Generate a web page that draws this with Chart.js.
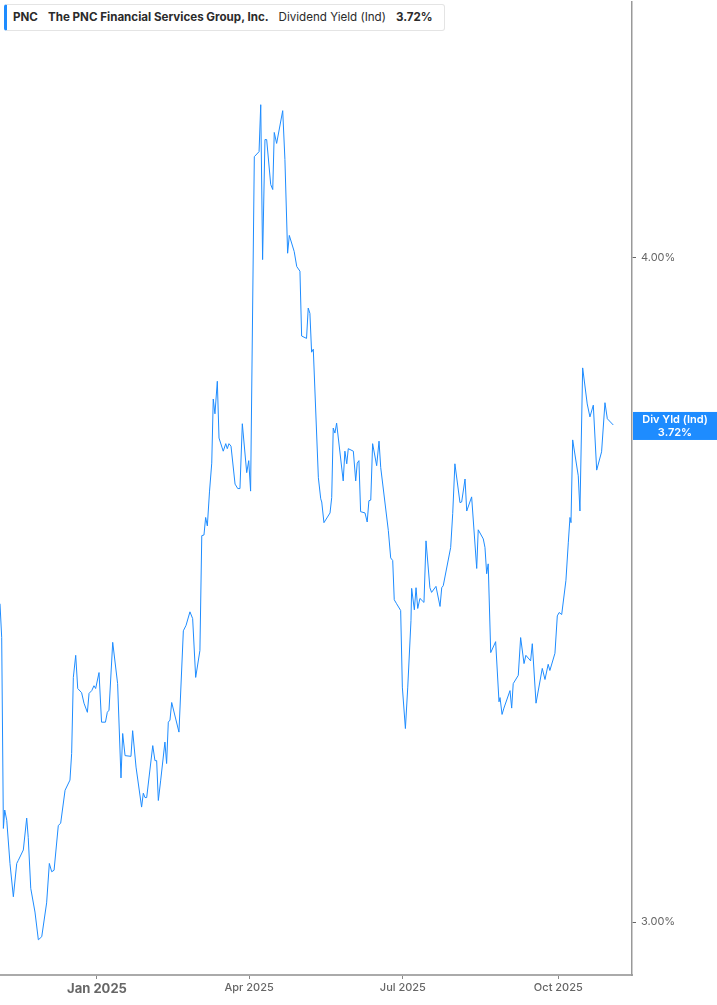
<!DOCTYPE html>
<html>
<head>
<meta charset="utf-8">
<script src="https://cdn.jsdelivr.net/npm/chart.js@4/dist/chart.umd.min.js"></script>
<style>
  body { margin: 0; background: #fff; font-family: Inter, "Noto Sans", sans-serif; overflow: hidden; }
  #caja { position: relative; width: 717px; height: 1005px; overflow: hidden; }
  #myChart { position: absolute; left: 0; top: -10px; }
  #leyenda {
    position: absolute; left: 4px; top: 4px; height: 25px; line-height: 25px;
    background: #fff; border: 1px solid #e4e4e4; border-left: 3px solid #1e8cff;
    border-radius: 3px; padding: 0 11px 0 6px; font-size: 11.6px; color: #2b2b2b;
    white-space: nowrap;
  }
  #leyenda b { font-weight: 700; }
  #leyenda span { margin-left: 10px; }
</style>
</head>
<body>
<div id="caja">
  <canvas id="myChart" width="717" height="1015"></canvas>
  <div id="leyenda"><b>PNC</b><span><b>The PNC Financial Services Group, Inc.</b></span><span>Dividend Yield (Ind)</span><span><b>3.72%</b></span></div>
</div>
<script>
// days counted from 1 Jan 2025 (negative = Nov/Dec 2024)
var dias = [-57.4, -56.4, -55.4, -54.6, -53.4, -51.5, -49.5, -47.5, -46.6, -43.6, -41.6, -40.7, -39.2, -36.7, -34.7, -32.7, -29.8, -28.2, -26.8, -25.4,
  -22.9, -21.5, -18.9, -16.0, -15.0, -14.0, -12.6, -11.4, -9.1, -7.7, -5.7, -4.7, -3.1, -1.8, -0.8, 1.2, 2.7, 5.0, 6.1, 7.1,
  9.3, 12.2, 14.2, 15.2, 16.6, 20.1, 21.1, 23.1, 26.4, 27.4, 28.4, 29.4, 33.0, 34.3, 35.3, 36.3, 37.7, 40.2, 41.2, 42.2,
  43.2, 44.2, 48.5, 51.1, 52.7, 55.0, 56.6, 58.4, 60.9, 62.0, 63.3, 64.3, 65.3, 66.6, 67.9, 68.8, 69.8, 71.2, 72.2, 74.7,
  76.2, 77.1, 78.1, 79.3, 81.7, 83.3, 84.6, 86.0, 88.6, 89.8, 90.9, 93.1, 95.9, 96.9, 98.0, 99.4, 100.4, 102.8, 104.0, 104.9,
  106.3, 109.9, 111.2, 112.8, 113.8, 116.7, 118.2, 120.1, 121.1, 124.0, 125.0, 126.0, 127.0, 128.0, 131.0, 132.4, 133.0, 134.3, 137.9, 138.9,
  139.8, 140.8, 141.8, 145.7, 146.7, 147.8, 148.7, 151.7, 153.1, 154.0, 155.0, 156.0, 158.6, 159.9, 160.9, 162.0, 163.1, 165.5, 166.9, 167.9,
  172.4, 173.8, 175.0, 175.9, 177.3, 179.7, 180.7, 182.5, 183.9, 185.8, 186.2, 187.8, 188.8, 189.8, 191.1, 193.5, 194.7, 197.0, 198.0, 200.6,
  203.0, 204.0, 204.9, 209.3, 210.5, 211.8, 214.8, 215.8, 217.8, 218.8, 221.7, 224.7, 225.6, 228.6, 229.6, 230.6, 231.5, 233.0, 235.9, 237.9,
  238.5, 239.7, 240.8, 244.4, 245.4, 246.3, 249.3, 250.7, 252.7, 253.8, 256.6, 257.6, 259.8, 263.5, 265.1, 267.0, 268.0, 271.0, 272.4, 273.5,
  275.0, 277.5, 278.9, 279.9, 280.5, 281.5, 284.8, 285.8, 287.4, 290.1, 291.7, 293.7, 295.7, 298.6, 300.6, 302.0, 305.5];

var rendimiento = [3.443, 3.393, 3.124, 3.149, 3.135, 3.077, 3.033, 3.077, 3.081, 3.095, 3.138, 3.112, 3.044, 3.013, 2.977, 2.981, 3.025, 3.077, 3.066, 3.068,
  3.128, 3.131, 3.176, 3.190, 3.227, 3.335, 3.367, 3.319, 3.313, 3.298, 3.285, 3.312, 3.316, 3.323, 3.319, 3.342, 3.271, 3.271, 3.285, 3.288,
  3.386, 3.326, 3.193, 3.255, 3.224, 3.223, 3.259, 3.208, 3.153, 3.172, 3.166, 3.166, 3.238, 3.217, 3.217, 3.162, 3.190, 3.243, 3.213, 3.271,
  3.274, 3.299, 3.257, 3.403, 3.411, 3.431, 3.421, 3.335, 3.374, 3.546, 3.547, 3.574, 3.561, 3.615, 3.659, 3.762, 3.738, 3.791, 3.699, 3.678,
  3.690, 3.682, 3.690, 3.686, 3.626, 3.619, 3.619, 3.722, 3.644, 3.663, 3.615, 4.178, 4.187, 4.273, 3.996, 4.209, 4.209, 4.128, 4.119, 4.222,
  4.202, 4.262, 4.173, 4.007, 4.038, 4.010, 3.984, 3.976, 3.866, 3.862, 3.913, 3.904, 3.839, 3.844, 3.636, 3.603, 3.598, 3.566, 3.581, 3.605,
  3.715, 3.707, 3.723, 3.631, 3.678, 3.658, 3.682, 3.678, 3.631, 3.659, 3.663, 3.583, 3.581, 3.567, 3.600, 3.601, 3.690, 3.655, 3.694, 3.652,
  3.554, 3.512, 3.508, 3.449, 3.443, 3.433, 3.321, 3.262, 3.321, 3.418, 3.466, 3.434, 3.467, 3.436, 3.451, 3.445, 3.538, 3.467, 3.460, 3.469,
  3.439, 3.467, 3.470, 3.528, 3.580, 3.658, 3.597, 3.598, 3.634, 3.584, 3.606, 3.496, 3.555, 3.541, 3.528, 3.488, 3.503, 3.371, 3.387, 3.300,
  3.306, 3.282, 3.291, 3.316, 3.291, 3.326, 3.338, 3.393, 3.355, 3.367, 3.359, 3.384, 3.298, 3.348, 3.332, 3.354, 3.345, 3.370, 3.425, 3.430,
  3.427, 3.478, 3.535, 3.574, 3.566, 3.696, 3.639, 3.584, 3.813, 3.754, 3.733, 3.752, 3.648, 3.677, 3.756, 3.730, 3.720];

var tickDias = [0, 90, 181, 273];
var tickTextos = ['Jan 2025', 'Apr 2025', 'Jul 2025', 'Oct 2025'];
var tickY = [3, 4];

var azul = '#1e8cff';

var puntos = [];
for (var i = 0; i < dias.length; i++) {
  puntos.push({ x: dias[i], y: rendimiento[i] });
}

// blue badge with the last value, on the right axis
var etiquetaFinal = {
  id: 'etiquetaFinal',
  afterDraw: function (chart) {
    var ctx = chart.ctx;
    var ultimo = rendimiento[rendimiento.length - 1];
    var y = chart.scales.y.getPixelForValue(ultimo);
    var x0 = chart.chartArea.right + 1;
    ctx.save();
    ctx.fillStyle = azul;
    ctx.fillRect(x0, y - 13, 717 - x0, 28);
    ctx.fillStyle = '#fff';
    ctx.textAlign = 'center';
    ctx.textBaseline = 'middle';
    ctx.font = '600 11px Inter';
    var cx = x0 + (717 - x0) / 2;
    ctx.fillText('Div Yld (Ind)', cx, y - 5);
    ctx.fillText(ultimo.toFixed(2) + '%', cx, y + 8);
    ctx.restore();
  }
};

var ctx = document.getElementById('myChart').getContext('2d');
var myChart = new Chart(ctx, {
  type: 'line',
  data: {
    datasets: [{
      label: 'Dividend Yield (Ind)',
      data: puntos,
      borderColor: azul,
      borderWidth: 1,
      pointRadius: 0,
      tension: 0,
      fill: false
    }]
  },
  options: {
    responsive: false,
    animation: false,
    devicePixelRatio: 1,
    layout: { padding: 0, autoPadding: false },
    plugins: { legend: { display: false }, tooltip: { enabled: false } },
    scales: {
      x: {
        type: 'linear',
        bounds: 'data',
        min: -57.4,
        max: 316.6,
        afterFit: function (s) { s.height = 30; },
        afterBuildTicks: function (s) {
          s.ticks = tickDias.map(function (v) { return { value: v }; });
        },
        grid: { display: true, drawOnChartArea: false, drawTicks: true, tickLength: 4, color: '#888' },
        border: { display: true, color: '#aaa', width: 2 },
        ticks: {
          autoSkip: false,
          maxRotation: 0,
          padding: 2,
          color: '#666',
          font: function (c) {
            if (c.index === 0) return { family: 'Inter', size: 13, weight: '700' };
            return { family: 'Inter', size: 11, weight: '500' };
          },
          callback: function (v, idx) { return tickTextos[idx]; }
        }
      },
      y: {
        type: 'logarithmic',
        position: 'right',
        bounds: 'data',
        min: 2.932,
        max: 4.468,
        afterFit: function (s) { s.width = 85; },
        afterBuildTicks: function (s) {
          s.ticks = tickY.map(function (v) { return { value: v }; });
        },
        grid: { display: true, drawOnChartArea: false, drawTicks: true, tickLength: 4, color: '#666' },
        border: { display: true, color: '#999', width: 1.5 },
        ticks: {
          padding: 5,
          color: '#666',
          font: { family: 'Inter', size: 11 },
          callback: function (v) { return v.toFixed(2) + '%'; }
        }
      }
    }
  },
  plugins: [etiquetaFinal]
});
</script>
</body>
</html>
